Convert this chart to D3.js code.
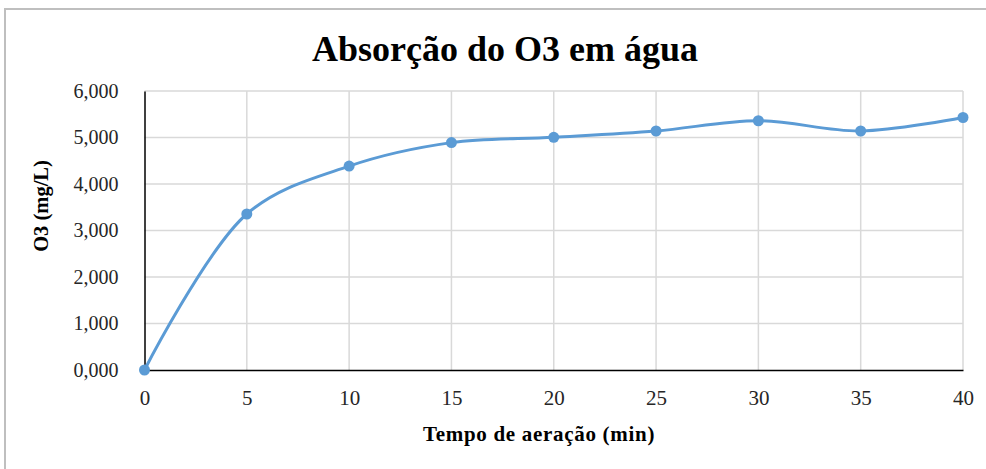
<!DOCTYPE html>
<html><head><meta charset="utf-8">
<script src="https://cdn.jsdelivr.net/npm/d3@7"></script>
<style>body{margin:0;background:#fff}svg{display:block}</style>
</head><body>
<script>
const xValues = [0, 5, 10, 15, 20, 25, 30, 35, 40];
const yValues = [0, 3.355, 4.385, 4.890, 5.005, 5.140, 5.360, 5.140, 5.430];
const xTicks = [0, 5, 10, 15, 20, 25, 30, 35, 40];
const yTicks = [0, 1, 2, 3, 4, 5, 6];
const title = "Absorção do O3 em água";
const xTitle = "Tempo de aeração (min)";
const yTitle = "O3 (mg/L)";

const W = 986, H = 469;
const svg = d3.select("body").append("svg").attr("width", W).attr("height", H);
const serif = "'Liberation Serif','Times New Roman',serif";

svg.append("rect").attr("x", 5).attr("y", 9).attr("width", 1000).attr("height", 480)
  .attr("fill", "#fff").attr("stroke", "#bfbfbf").attr("stroke-width", 2);

const m = {l: 144.5, r: 963, t: 91, b: 370};
const x = d3.scaleLinear().domain([0, 40]).range([m.l, m.r]);
const y = d3.scaleLinear().domain([0, 6]).range([m.b, m.t]);

const g = svg.append("g");
g.selectAll(".hg").data(yTicks.filter(d => d > 0)).join("line")
  .attr("x1", m.l).attr("x2", m.r).attr("y1", d => y(d)).attr("y2", d => y(d))
  .attr("stroke", "#d9d9d9").attr("stroke-width", 1.5);
g.selectAll(".vg").data(xTicks.filter(d => d > 0)).join("line")
  .attr("y1", m.t).attr("y2", m.b).attr("x1", d => x(d)).attr("x2", d => x(d))
  .attr("stroke", "#d9d9d9").attr("stroke-width", 1.5);

const fmt = d => d3.format(".3f")(d).replace(".", ",");
const yAxis = svg.append("g").attr("transform", `translate(${m.l},0)`)
  .call(d3.axisLeft(y).tickValues(yTicks).tickFormat(fmt).tickSize(0).tickPadding(26));
yAxis.select(".domain").attr("stroke", "#000").attr("stroke-width", 1.5);
yAxis.selectAll("text").attr("font-family", serif).attr("font-size", 20).attr("fill", "#262626");

const xAxis = svg.append("g").attr("transform", `translate(0,${m.b})`)
  .call(d3.axisBottom(x).tickValues(xTicks).tickFormat(d3.format("d")).tickSize(0).tickPadding(20));
xAxis.select(".domain").attr("stroke", "#000").attr("stroke-width", 1.5);
xAxis.selectAll("text").attr("font-family", serif).attr("font-size", 21).attr("fill", "#262626");

const pts = xValues.map((d, i) => [d, yValues[i]]);
const line = d3.line().x(d => x(d[0])).y(d => y(d[1])).curve(d3.curveCatmullRom.alpha(0.5));
svg.append("path").datum(pts).attr("d", line).attr("fill", "none")
  .attr("stroke", "#5b9bd5").attr("stroke-width", 3);
svg.selectAll(".pt").data(pts).join("circle")
  .attr("cx", d => x(d[0])).attr("cy", d => y(d[1])).attr("r", 5.5).attr("fill", "#5b9bd5");

svg.append("text").attr("x", 505).attr("y", 61).attr("text-anchor", "middle")
  .attr("font-family", serif).attr("font-weight", "bold").attr("font-size", 36)
  .attr("fill", "#000").text(title);
svg.append("text").attr("x", 539).attr("y", 441).attr("text-anchor", "middle")
  .attr("font-family", serif).attr("font-weight", "bold").attr("font-size", 21)
  .attr("letter-spacing", 0.7).attr("fill", "#000").text(xTitle);
svg.append("text").attr("transform", "translate(48,206) rotate(-90)").attr("text-anchor", "middle")
  .attr("font-family", serif).attr("font-weight", "bold").attr("font-size", 20.5)
  .attr("fill", "#000").text(yTitle);
</script>
</body></html>
